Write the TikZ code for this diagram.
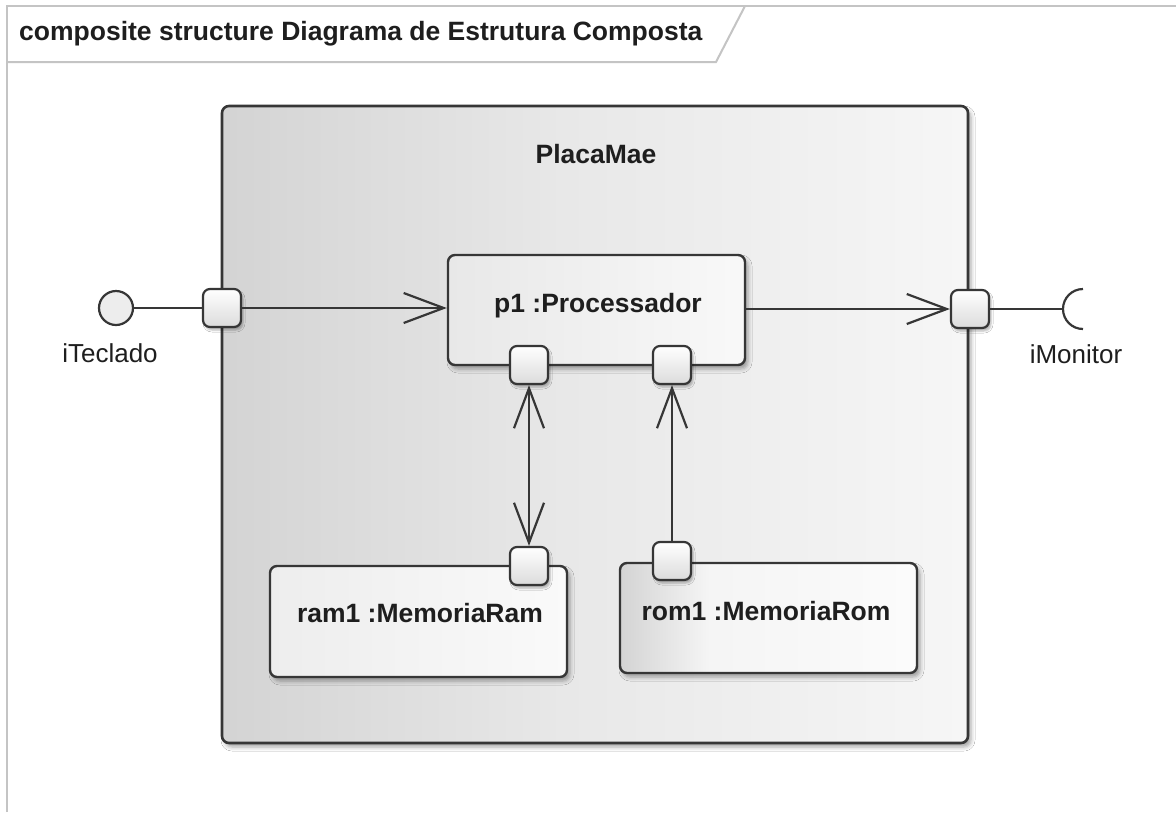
\documentclass[tikz,border=0pt]{standalone}
\usepackage{fontspec}
\setmainfont{Liberation Sans}
\usetikzlibrary{arrows.meta,shadows.blur}

\definecolor{frameline}{HTML}{C4C4C4}
\definecolor{edge}{HTML}{363636}
\definecolor{ink}{HTML}{1E1E1E}

% fades used for the part fills (the path spans 25bp..75bp of the strip)
\pgfdeclarehorizontalshading{romfade}{100bp}{color(0bp)=(gray!34); color(25bp)=(gray!34); color(40bp)=(gray!8); color(75bp)=(gray!3); color(100bp)=(gray!3)}
\pgfdeclarehorizontalshading{placafade}{100bp}{color(0bp)=(gray!34); color(25bp)=(gray!34); color(48bp)=(gray!18); color(75bp)=(gray!7); color(100bp)=(gray!7)}

\tikzset{
  framepen/.style={draw=frameline, line width=2pt},
  boxshadow/.style={blur shadow={shadow xshift=3pt, shadow yshift=-4pt,
      shadow blur radius=4pt, shadow opacity=35}},
  classbox/.style={draw=edge, line width=2.6pt, rounded corners=7pt, boxshadow},
  partbox/.style={draw=edge, line width=2.4pt, rounded corners=7pt, boxshadow},
  portbox/.style={draw=edge, line width=2.2pt, rounded corners=7pt,
      minimum size=38pt, inner sep=0pt, top color=white, bottom color=gray!28,
      blur shadow={shadow xshift=2pt, shadow yshift=-3pt,
      shadow blur radius=2pt, shadow opacity=30}},
  namebold/.style={font=\fontsize{26.5}{30}\selectfont\bfseries, text=ink,
      inner sep=0pt, anchor=base},
  nameplain/.style={font=\fontsize{26}{30}\selectfont, text=ink,
      inner sep=0pt, anchor=base},
  conn/.style={draw=edge, line width=2.2pt},
  >={Straight Barb[length=40pt,width=30pt]},
}

\begin{document}
\begin{tikzpicture}[x=1pt, y=-1pt]
  % page and outer frame
  \fill[white] (0,0) rectangle (1176,812);
  \useasboundingbox (0,0) rectangle (1176,812);
  \draw[framepen] (7,812) -- (7,6) -- (1176,6);
  \draw[framepen] (7,62) -- (716,62) -- (745,6);
  \node[namebold, anchor=base west] (title) at (19,40)
    {composite structure Diagrama de Estrutura Composta};

  % structured class and its parts
  \node[classbox, shading=placafade,
        minimum width=746pt, minimum height=637pt] (placa) at (595,424.5) {};
  \node[namebold] (placaName) at (596,163) {PlacaMae};

  \node[partbox, left color=gray!18, right color=gray!5,
        minimum width=297pt, minimum height=110pt] (p1) at (596.5,310) {};
  \node[namebold] (p1Name) at (598,312) {p1 :Processador};

  \node[partbox, left color=gray!14, right color=gray!4,
        minimum width=297pt, minimum height=111pt] (ram) at (418.5,621.5) {};
  \node[namebold] (ramName) at (420,622) {ram1 :MemoriaRam};

  \node[partbox, shading=romfade,
        minimum width=297pt, minimum height=110pt] (rom) at (768.5,618) {};
  \node[namebold] (romName) at (766,620) {rom1 :MemoriaRom};

  % ports
  \node[portbox] (portIn)  at (222,308) {};
  \node[portbox] (portOut) at (970,309) {};
  \node[portbox] (p1a) at (529,365) {};
  \node[portbox] (p1b) at (672,365) {};
  \node[portbox] (ramP) at (529,566) {};
  \node[portbox] (romP) at (672,561) {};

  % provided and required interfaces
  \node[circle, draw=edge, line width=2.2pt, minimum size=34pt, inner sep=0pt,
        fill=gray!14] (iTec) at (116,308) {};
  \node[nameplain] (iTecName) at (110,362) {iTeclado};
  \coordinate (sock) at (1063,309);
  \draw[conn] (1083,289) arc[start angle=90, end angle=270, radius=20pt];
  \node[nameplain] (iMonName) at (1076,363) {iMonitor};

  % connectors
  \draw[conn] (iTec.east) -- (portIn.west);
  \draw[conn] (portOut.east) -- (sock);
  \draw[conn, ->] (portIn.east) -- (portIn.east -| p1.west);
  \draw[conn, ->] (p1.east |- portOut.west) -- (portOut.west);
  \draw[conn, <->] (p1a.south) -- (ramP.north);
  \draw[conn, ->] (romP.north) -- (p1b.south);
\end{tikzpicture}
\end{document}
